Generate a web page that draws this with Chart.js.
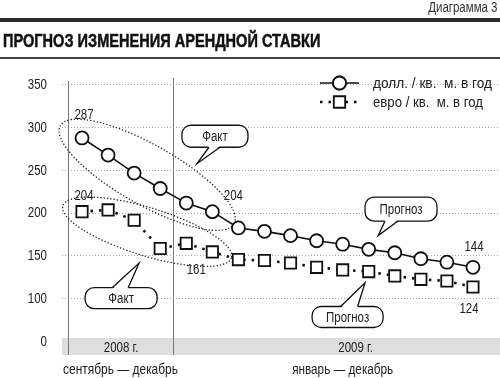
<!DOCTYPE html>
<html lang="ru">
<head>
<meta charset="utf-8">
<title>Прогноз изменения арендной ставки</title>
<script src="https://cdn.jsdelivr.net/npm/chart.js@4.4.1/dist/chart.umd.min.js"></script>
<style>
    html, body { margin: 0; padding: 0; background: #fff; }
    #wrap { position: relative; width: 500px; height: 378px; overflow: hidden; }
    #chart { position: absolute; left: 0; top: 0; }
    .narrow { font-family: "Liberation Sans", Arial, sans-serif; }
    #num { position: absolute; right: 3px; top: -1px; font-size: 14px; color: #333; white-space: nowrap; transform-origin: 100% 0; transform: scaleX(0.82); }
    #bar { position: absolute; left: 0; top: 18px; width: 500px; height: 4px; background: #2a2a2a; }
    #title { position: absolute; left: 3px; top: 31px; font-size: 18px; font-weight: bold; color: #111; white-space: nowrap; transform-origin: 0 0; -webkit-text-stroke: 0.5px #111; }
    #rule { position: absolute; left: 0; top: 57px; width: 500px; height: 2px; background: #444; }
</style>
</head>
<body>
<div id="wrap">
    <canvas id="chart" width="500" height="378"></canvas>
    <div id="num" class="narrow">Диаграмма 3</div>
    <div id="bar"></div>
    <div id="title" class="narrow">ПРОГНОЗ ИЗМЕНЕНИЯ АРЕНДНОЙ СТАВКИ</div>
    <div id="rule"></div>
</div>
<script>
// Chart data
const months = ['сен 08', 'окт 08', 'ноя 08', 'дек 08',
    'янв 09', 'фев 09', 'мар 09', 'апр 09', 'май 09', 'июн 09',
    'июл 09', 'авг 09', 'сен 09', 'окт 09', 'ноя 09', 'дек 09'];
const usdRate = [287, 267, 246, 228, 211, 201, 182, 178, 173, 167, 163, 157, 153, 146, 142, 136];
const eurRate = [201, 203, 191, 158, 164, 154, 145, 144, 141, 136, 133, 131, 126, 122, 120, 113];
const seriesNames = ['долл. / кв.  м. в год', 'евро / кв.  м. в год'];
const yTicks = [50, 100, 150, 200, 250, 300, 350];   // 50 is drawn as "0" (broken axis)
const periods = ['2008 г.', '2009 г.'];
const periodMonths = ['сентябрь — декабрь', 'январь — декабрь'];

const FONT = '14px "Liberation Sans", Arial, sans-serif';
const SQUEEZE = 0.82;   // fake a condensed face

// value labels next to some points
const notes = [
    { ds: 0, i: 0, text: '287', dx: 2, dy: -23 },
    { ds: 0, i: 5, text: '204', dx: 21, dy: -16 },
    { ds: 0, i: 15, text: '144', dx: 1, dy: -20 },
    { ds: 1, i: 0, text: '204', dx: 2, dy: -16 },
    { ds: 1, i: 4, text: '161', dx: 10, dy: 27 },
    { ds: 1, i: 15, text: '124', dx: -4, dy: 22 }
];

// speech bubbles, anchored in axis units (category index, value)
const callouts = [
    { text: 'Факт', bx: 5.10, by: 289, w: 66, h: 22, tx: 4.41, ty: 257, side: 'bottom', b0: -6, b1: 5 },
    { text: 'Факт', bx: 1.50, by: 100, w: 72, h: 21, tx: 2.19, ty: 141, side: 'top', b0: -9, b1: 7 },
    { text: 'Прогноз', bx: 12.24, by: 204, w: 72, h: 24, tx: 11.36, ty: 173, side: 'bottom', b0: -16, b1: -3 },
    { text: 'Прогноз', bx: 10.19, by: 78, w: 71, h: 21, tx: 10.86, ty: 118, side: 'top', b0: -7, b1: 10 }
];

// draw squeezed text; optional width forces the squeeze
function text(ctx, str, x, y, align, width) {
    const sx = width ? width / ctx.measureText(str).width : SQUEEZE;
    ctx.save();
    ctx.translate(x, y);
    ctx.scale(sx, 1);
    ctx.textAlign = align;
    ctx.fillText(str, 0, 0);
    ctx.restore();
}

function roundRect(ctx, x, y, w, h, r) {
    ctx.beginPath();
    ctx.moveTo(x + r, y);
    ctx.arcTo(x + w, y, x + w, y + h, r);
    ctx.arcTo(x + w, y + h, x, y + h, r);
    ctx.arcTo(x, y + h, x, y, r);
    ctx.arcTo(x, y, x + w, y, r);
    ctx.closePath();
}

// ellipse around the first six points of a series
function factEllipse(ctx, chart, ds, extra, minor) {
    const meta = chart.getDatasetMeta(ds);
    const a = meta.data[0], b = meta.data[5];
    const cx = (a.x + b.x) / 2, cy = (a.y + b.y) / 2;
    const ang = Math.atan2(b.y - a.y, b.x - a.x);
    const major = Math.hypot(b.x - a.x, b.y - a.y) / 2 + extra;
    ctx.beginPath();
    ctx.ellipse(cx, cy, major, minor, ang, 0, Math.PI * 2);
    ctx.stroke();
}

const decor = {
    id: 'decor',
    beforeDatasetsDraw(chart) {
        const { ctx, scales: { x, y } } = chart;
        const zeroY = y.getPixelForValue(yTicks[0]);
        const bandTop = zeroY - 3, bandBottom = zeroY + 14;
        const left = x.left - 7;
        ctx.save();

        // grey period band
        ctx.fillStyle = '#dedede';
        ctx.fillRect(left, bandTop, chart.width - left, bandBottom - bandTop);

        // dotted grid
        ctx.strokeStyle = '#a8a8a8';
        ctx.lineWidth = 1;
        ctx.setLineDash([1, 2]);
        y.ticks.forEach(t => {
            if (t.value === yTicks[0]) return;
            const py = Math.round(y.getPixelForValue(t.value)) + 0.5;
            ctx.beginPath();
            ctx.moveTo(left, py);
            ctx.lineTo(chart.width, py);
            ctx.stroke();
        });
        ctx.setLineDash([]);

        // vertical lines
        ctx.strokeStyle = '#777';
        const divX = Math.round((x.getPixelForValue(3) + x.getPixelForValue(4)) / 2) + 0.5;
        ctx.beginPath();
        ctx.moveTo(x.left - 0.5, y.top - 3);
        ctx.lineTo(x.left - 0.5, bandBottom);
        ctx.moveTo(divX, y.top - 6);
        ctx.lineTo(divX, bandBottom);
        ctx.stroke();

        // y tick labels
        ctx.fillStyle = '#222';
        ctx.font = FONT;
        ctx.textBaseline = 'middle';
        y.ticks.forEach(t => {
            const label = t.value === yTicks[0] ? '0' : String(t.value);
            text(ctx, label, 47, y.getPixelForValue(t.value) + 1, 'right');
        });

        // period labels
        text(ctx, periods[0], (x.getPixelForValue(0) + x.getPixelForValue(3)) / 2, bandTop + 10, 'center');
        text(ctx, periods[1], x.getPixelForValue(10.5), bandTop + 10, 'center');
        text(ctx, periodMonths[0], left + 1, 370, 'left', 115);
        text(ctx, periodMonths[1], x.getPixelForValue(10), 370, 'center', 101);

        // dotted "fact" ellipses
        ctx.strokeStyle = '#222';
        ctx.lineWidth = 1.3;
        ctx.setLineDash([1.3, 2]);
        factEllipse(ctx, chart, 0, 25, 30);
        factEllipse(ctx, chart, 1, 20, 24);
        ctx.restore();
    },
    afterDatasetsDraw(chart) {
        const { ctx, scales: { x, y } } = chart;
        ctx.save();
        ctx.fillStyle = '#222';
        ctx.font = FONT;
        ctx.textBaseline = 'middle';
        notes.forEach(n => {
            const p = chart.getDatasetMeta(n.ds).data[n.i];
            text(ctx, n.text, p.x + n.dx, p.y + n.dy, 'center');
        });

        // bubbles
        ctx.lineWidth = 1.3;
        ctx.strokeStyle = '#111';
        callouts.forEach(c => {
            const cx = x.getPixelForValue(c.bx), cy = y.getPixelForValue(c.by);
            const tx = x.getPixelForValue(c.tx), ty = y.getPixelForValue(c.ty);
            const bx = cx - c.w / 2, by = cy - c.h / 2;
            roundRect(ctx, bx, by, c.w, c.h, 9);
            ctx.fillStyle = '#fff';
            ctx.fill();
            ctx.stroke();
            const edge = c.side === 'bottom' ? by + c.h : by;
            const inset = c.side === 'bottom' ? -1.5 : 1.5;
            ctx.beginPath();
            ctx.moveTo(cx + c.b0, edge + inset);
            ctx.lineTo(tx, ty);
            ctx.lineTo(cx + c.b1, edge + inset);
            ctx.closePath();
            ctx.fill();
            ctx.beginPath();
            ctx.moveTo(cx + c.b0, edge);
            ctx.lineTo(tx, ty);
            ctx.lineTo(cx + c.b1, edge);
            ctx.stroke();
            ctx.fillStyle = '#222';
            text(ctx, c.text, cx, cy + 1, 'center');
        });

        // legend
        const rows = [83, 102];
        const legendWidths = [119, 110];
        chart.data.datasets.forEach((ds, k) => {
            const ly = rows[k];
            ctx.strokeStyle = ds.borderColor;
            ctx.lineWidth = ds.borderWidth;
            ctx.setLineDash(ds.borderDash || []);
            ctx.lineCap = 'butt';
            ctx.beginPath();
            ctx.moveTo(320, ly);
            ctx.lineTo(359, ly);
            ctx.stroke();
            ctx.setLineDash([]);
            ctx.fillStyle = '#fff';
            ctx.lineWidth = ds.pointBorderWidth;
            Chart.helpers.drawPoint(ctx, {
                pointStyle: ds.pointStyle, radius: ds.pointRadius, rotation: 0, borderWidth: ds.pointBorderWidth
            }, 339.5, ly);
            ctx.fill();
            ctx.stroke();
            ctx.fillStyle = '#222';
            text(ctx, ds.label, 373, ly + 1, 'left', legendWidths[k]);
        });
        ctx.restore();
    }
};

const chart = new Chart(document.getElementById('chart').getContext('2d'), {
    type: 'line',
    data: {
        labels: months,
        datasets: [{
            label: seriesNames[0],
            data: usdRate,
            borderColor: '#111',
            borderWidth: 1.6,
            pointStyle: 'circle',
            pointRadius: 6.5,
            pointBorderWidth: 1.8,
            pointBackgroundColor: '#fff',
            pointBorderColor: '#111',
            tension: 0
        }, {
            label: seriesNames[1],
            data: eurRate,
            borderColor: '#111',
            borderWidth: 2.6,
            borderDash: [2.5, 6],
            pointStyle: 'rect',
            pointRadius: 8,
            pointBorderWidth: 1.8,
            pointBackgroundColor: '#fff',
            pointBorderColor: '#111',
            tension: 0
        }]
    },
    options: {
        responsive: false,
        animation: false,
        layout: { padding: { left: 69, right: 14, top: 84, bottom: 37 } },
        plugins: { legend: { display: false }, tooltip: { enabled: false } },
        scales: {
            x: { display: false, offset: true },
            y: {
                display: false,
                min: yTicks[0],
                max: yTicks[yTicks.length - 1],
                afterBuildTicks: scale => { scale.ticks = yTicks.map(v => ({ value: v })); }
            }
        }
    },
    plugins: [decor]
});

// squeeze the heading to the reference width
const title = document.getElementById('title');
title.style.transform = 'scaleX(' + (317 / title.offsetWidth).toFixed(3) + ')';
</script>
</body>
</html>
